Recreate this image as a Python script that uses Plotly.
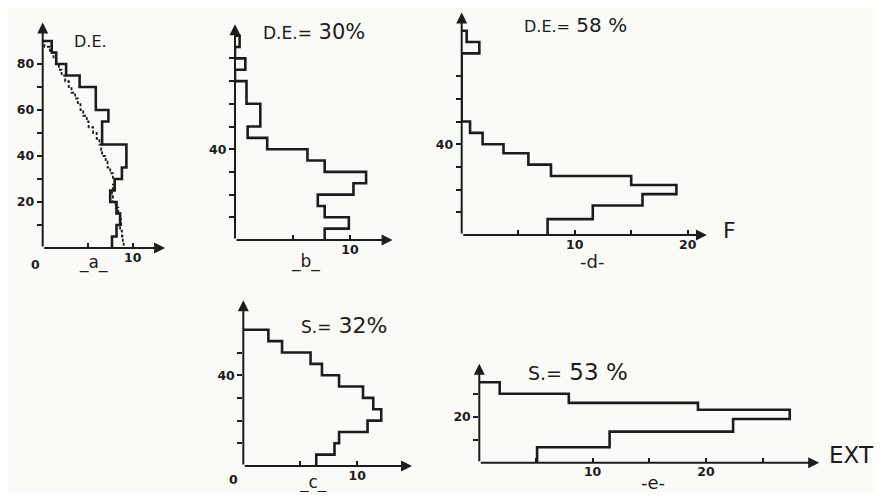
import plotly.graph_objects as go

# the page body has an 8px margin, so the figure starts at (8, 8) in the window
OFF = 8
W, H = 883 - 2 * OFF, 500 - 2 * OFF
BG = "#fafbf6"
INK = "#1c1c1c"
FONT = "DejaVu Sans"

# ---- data: horizontal step histograms (bin edges from top to bottom, value per bin) ----
edges_a = [90, 85, 80, 75, 70, 60, 55, 45, 35, 30, 25, 20, 15, 10, 5, 0]
values_a = [1.0, 1.5, 2.6, 4.1, 5.9, 7.3, 6.6, 9.3, 8.8, 8.0, 7.5, 8.2, 8.6, 8.2, 7.7]

edges_a_dash = [90, 87.5, 85, 82.5, 80, 77.5, 75, 72.5, 70, 67.5, 65, 62.5, 60, 57.5, 55, 52.5,
                50, 47.5, 45, 42.5, 40, 37.5, 35, 32.5, 30, 27.5, 25, 22.5, 20, 17.5, 15, 12.5,
                10, 7.5, 5, 2.5, 0]
values_a_dash = [0.2, 0.8, 1.2, 1.5, 1.8, 2.1, 2.5, 2.9, 3.2, 3.6, 3.9, 4.2, 4.5, 4.9, 5.1, 5.6,
                 6.0, 6.3, 6.5, 6.6, 7.0, 7.2, 7.5, 7.8, 8.0, 7.8, 7.7, 7.8, 8.1, 8.4, 8.6, 8.7,
                 8.6, 8.8, 8.9, 9.0]

edges_b = [90, 85, 80, 75, 70, 60, 50, 45, 40, 35, 30, 25, 20, 15, 10, 5, 0]
values_b = [0.4, 0.0, 0.9, 0.0, 1.0, 2.2, 1.1, 2.8, 6.3, 7.8, 11.4, 10.3, 7.2, 7.8, 9.9, 7.8]

edges_d = [90, 85, 80, 50, 45, 40, 36, 31, 26, 22, 18, 13, 7, 0]
values_d = [0.44, 1.56, 0.0, 0.74, 1.85, 3.7, 5.9, 7.9, 15.0, 19.0, 16.0, 11.6, 7.6]

edges_c = [60, 55, 50, 45, 40, 35, 30, 25, 20, 15, 10, 5, 0]
values_c = [2.2, 3.4, 5.9, 6.9, 8.4, 10.5, 11.4, 12.1, 10.9, 8.4, 8.0, 6.4]

edges_e = [35, 30, 26, 23, 19, 13.5, 6.7, 0]
values_e = [1.8, 7.9, 19.3, 27.4, 22.4, 11.5, 5.1]

# tick definitions per panel
xticks = {
    "a": ([5, 10], ["", "10"]),
    "b": ([5, 10], ["", "10"]),
    "d": ([5, 10, 15, 20], ["", "10", "", "20"]),
    "c": ([5, 10], ["", "10"]),
    "e": ([5, 10, 15, 20, 25], ["", "10", "", "20", ""]),
}
yticks = {
    "a": ([10, 20, 30, 40, 50, 60, 70, 80], ["", "20", "", "40", "", "60", "", "80"]),
    "b": ([10, 20, 30, 40, 50, 60, 70, 80], ["", "", "", "40", "", "", "", ""]),
    "d": ([10, 20, 30, 40, 50, 60, 70], ["", "", "", "40", "", "", ""]),
    "c": ([10, 20, 30, 40, 50], ["", "", "", "40", ""]),
    "e": ([10, 20, 30], ["", "20", ""]),
}

# panel geometry (window pixels): origin pixel, pixels per unit, axis extents
panels = {
    "a": dict(ox=42.7, oy=248.0, sx=9.0, sy=2.3, xmax=13.6, ymax=98),
    "b": dict(ox=235.0, oy=240.0, sx=11.5, sy=2.27, xmax=13.7, ymax=95),
    "d": dict(ox=461.7, oy=235.0, sx=11.3, sy=2.27, xmax=21.7, ymax=98),
    "c": dict(ox=243.3, oy=466.0, sx=11.4, sy=2.27, xmax=14.8, ymax=73),
    "e": dict(ox=479.3, oy=462.7, sx=11.33, sy=2.3, xmax=30.0, ymax=43),
}
order = ["a", "b", "d", "c", "e"]


def fx(px):
    return (px - OFF) / W


def fy(py):
    return 1 - (py - OFF) / H


def step_path(edges, values):
    xs, ys = [0], [edges[0]]
    for i, v in enumerate(values):
        xs += [v, v]
        ys += [edges[i], edges[i + 1]]
    return xs, ys


fig = go.Figure()
layout = dict(width=W, height=H, margin=dict(l=0, r=0, t=0, b=0),
              paper_bgcolor=BG, plot_bgcolor="rgba(0,0,0,0)", showlegend=False,
              font=dict(family=FONT, color=INK))
annotations = []

series = {
    "a": [(edges_a, values_a, "solid", 2.6), (edges_a_dash, values_a_dash, "3px,2px", 1.8)],
    "b": [(edges_b, values_b, "solid", 2.6)],
    "d": [(edges_d, values_d, "solid", 2.6)],
    "c": [(edges_c, values_c, "solid", 2.6)],
    "e": [(edges_e, values_e, "solid", 2.6)],
}

tickfont = dict(size=12.5, family=FONT, color=INK, weight="bold")

for i, key in enumerate(order):
    p = panels[key]
    n = "" if i == 0 else str(i + 1)
    xa, ya = "x" + n, "y" + n
    xd = [fx(p["ox"]), fx(p["ox"] + p["xmax"] * p["sx"])]
    yd = [fy(p["oy"]), fy(p["oy"] - p["ymax"] * p["sy"])]
    tv, tt = xticks[key]
    layout["xaxis" + n] = dict(domain=xd, range=[0, p["xmax"]], anchor=ya, showgrid=False,
                               zeroline=False, showline=False, ticks="inside", ticklen=5,
                               tickwidth=1.6, tickcolor=INK, tickvals=tv, ticktext=tt,
                               tickfont=tickfont, fixedrange=True)
    tv, tt = yticks[key]
    layout["yaxis" + n] = dict(domain=yd, range=[0, p["ymax"]], anchor=xa, showgrid=False,
                               zeroline=False, showline=False, ticks="outside", ticklen=5,
                               tickwidth=1.6, tickcolor=INK, tickvals=tv, ticktext=tt,
                               tickfont=tickfont, fixedrange=True)
    for edges, vals, dash, w in series[key]:
        xs, ys = step_path(edges, vals)
        fig.add_trace(go.Scatter(x=xs, y=ys, mode="lines", xaxis=xa, yaxis=ya,
                                 line=dict(color=INK, width=w, dash=dash),
                                 hoverinfo="skip"))
    # axis arrows
    annotations.append(dict(x=p["xmax"], y=0, ax=0, ay=0, xref=xa, yref=ya, axref=xa, ayref=ya,
                            text="", showarrow=True, arrowhead=2, arrowsize=1.1, arrowwidth=2,
                            arrowcolor=INK))
    annotations.append(dict(x=0, y=p["ymax"], ax=0, ay=0, xref=xa, yref=ya, axref=xa, ayref=ya,
                            text="", showarrow=True, arrowhead=2, arrowsize=1.1, arrowwidth=2,
                            arrowcolor=INK))


def txt(s, px, py, size, weight="normal"):
    annotations.append(dict(text=s, x=fx(px), y=fy(py), xref="paper", yref="paper",
                            xanchor="center", yanchor="middle", showarrow=False,
                            font=dict(size=size, family=FONT, color=INK, weight=weight)))


def small(s, size):
    return "<span style='font-size:%dpx'>%s</span>" % (size, s)


txt("D.E.", 90, 42, 16)
txt(small("D.E.=", 17) + " 30%", 314, 32, 21)
txt(small("D.E.=", 16) + " 58 %", 575, 25, 20)
txt(small("S.=", 17) + " 32%", 344, 325, 22)
txt(small("S.=", 19) + " 53 %", 578, 372, 23)
txt("_a_", 93, 263, 17)
txt("_b_", 305, 261, 17)
txt("-d-", 592, 261, 18)
txt("_c_", 313, 482, 17)
txt("-e-", 653, 482, 18)
txt("F", 729, 230, 22)
txt("EXT", 851, 455, 23)
txt("0", 35, 264, 12.5, "bold")
txt("0", 234, 479, 12.5, "bold")

layout["annotations"] = annotations
fig.update_layout(**layout)
fig.write_html("out.html")
